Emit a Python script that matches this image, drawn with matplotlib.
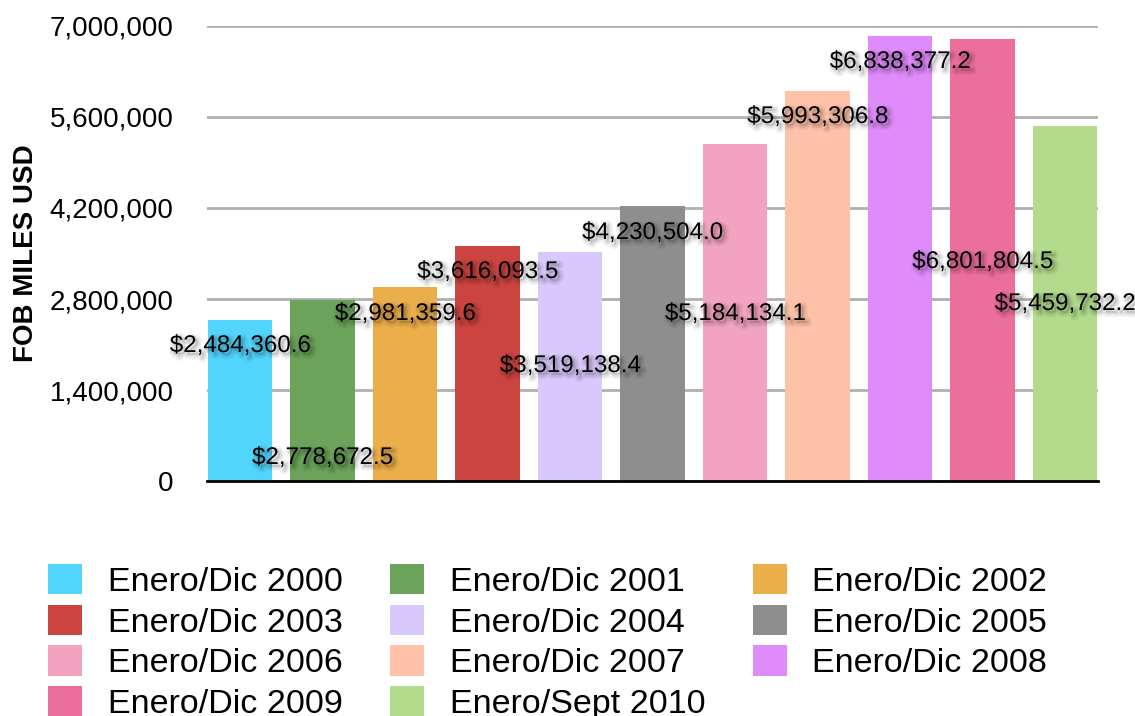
import matplotlib.pyplot as plt
import matplotlib.patheffects as pe
from matplotlib.patches import Patch

plt.rcParams["font.family"] = ["Liberation Sans", "DejaVu Sans"]

periodos = ["Enero/Dic 2000", "Enero/Dic 2001", "Enero/Dic 2002", "Enero/Dic 2003",
            "Enero/Dic 2004", "Enero/Dic 2005", "Enero/Dic 2006", "Enero/Dic 2007",
            "Enero/Dic 2008", "Enero/Dic 2009", "Enero/Sept 2010"]
valores = [2484360.6, 2778672.5, 2981359.6, 3616093.5, 3519138.4, 4230504.0,
           5184134.1, 5993306.8, 6838377.2, 6801804.5, 5459732.2]
colores = ["#52D5FD", "#6AA359", "#ECAE4A", "#CB4440", "#D8C8FC", "#8E8E8E",
           "#F2A3C0", "#FFC2A8", "#E08BFB", "#EC6E9C", "#B2DC8C"]
# altura donde aparece cada etiqueta (como en el original)
etiqueta_y = [2077000, 354000, 2569000, 3215000, 1769000, 3815000,
              2569000, 5600000, 6446000, 3369000, 2723000]
ticks = [0, 1400000, 2800000, 4200000, 5600000, 7000000]

fig = plt.figure(figsize=(11.35, 7.16), dpi=100)
ax = fig.add_axes([0.1824, 0.3282, 0.785, 0.6355])

x = list(range(len(valores)))
ax.bar(x, valores, width=0.78, color=colores, zorder=2)

sombra = [pe.Stroke(offset=(2, -2), linewidth=6, foreground="black", alpha=0.05),
          pe.Stroke(offset=(2, -2), linewidth=3, foreground="black", alpha=0.08),
          pe.Normal()]
for i, v in enumerate(valores):
    ax.text(i, etiqueta_y[i], f"${v:,.1f}", ha="center", va="center",
            fontsize=17.4, color="black", zorder=5, path_effects=sombra)

ax.set_xlim(-0.4, 10.4)
ax.set_ylim(0, 7000000)
ax.set_yticks(ticks)
ax.set_yticklabels([f"{t:,}" for t in ticks], fontsize=20)
ax.set_xticks([])
ax.tick_params(axis="y", length=0, pad=24)
ax.yaxis.grid(True, color="#B0B0B0", linewidth=2, zorder=0)
ax.set_axisbelow(True)
for s in ["left", "right", "top"]:
    ax.spines[s].set_visible(False)
ax.spines["bottom"].set_linewidth(2)
ax.spines["bottom"].set_zorder(3)
ax.set_ylabel("FOB MILES USD", fontsize=20, fontweight="bold", labelpad=8)

# leyenda por filas: reordenar a orden por columnas
handles = [Patch(facecolor=c, label=p) for c, p in zip(colores, periodos)]
orden = [0, 3, 6, 9, 1, 4, 7, 10, 2, 5, 8]
fig.legend([handles[k] for k in orden], [periodos[k] for k in orden],
           ncol=3, loc="upper left", bbox_to_anchor=(48 / 1135, 1 - 564 / 716),
           frameon=False, fontsize=24.5, handlelength=1.0, handleheight=1.0,
           handletextpad=0.75, columnspacing=1.4, labelspacing=0.2,
           borderpad=0, borderaxespad=0)

fig.savefig("out.png", dpi=100)
